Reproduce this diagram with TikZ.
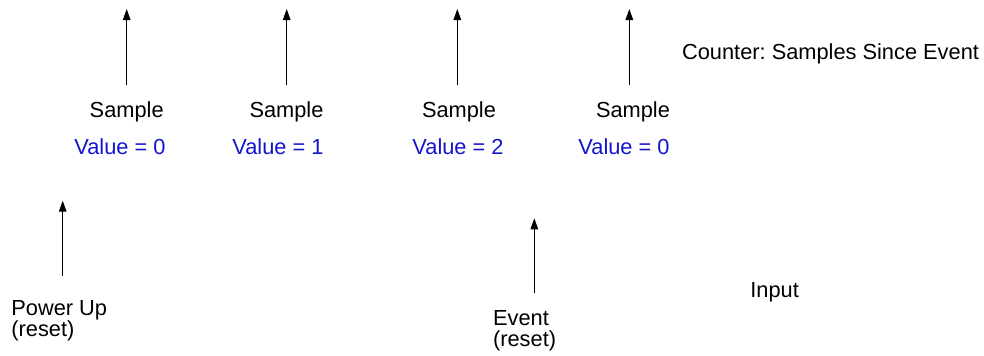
\documentclass[tikz,border=0pt]{standalone}
\usepackage{fontspec}
\setmainfont{Liberation Sans}
\usetikzlibrary{arrows.meta}
\definecolor{valueblue}{RGB}{20,20,205}
\frenchspacing

\begin{document}
\begin{tikzpicture}[x=0.5pt, y=-0.5pt,
    txt/.style={inner sep=0pt, font=\fontsize{10.9}{10.9}\selectfont},
    val/.style={txt, text=valueblue},
    up/.style={-{Triangle[length=5.5pt, width=3.8pt]}, line width=0.5pt}]
    \useasboundingbox (0,0) rectangle (984,355);

    % samples and counter values
    \node[txt, anchor=base] at (126.7, 117.3) (smp1) {Sample};
    \node[txt, anchor=base] at (286.5, 117.3) (smp2) {Sample};
    \node[txt, anchor=base] at (459, 117.3) (smp3) {Sample};
    \node[txt, anchor=base] at (633, 117.3) (smp4) {Sample};

    \node[val, anchor=base] at (120, 154) (val1) {Value = 0};
    \node[val, anchor=base] at (278, 154) (val2) {Value = 1};
    \node[val, anchor=base] at (458, 154) (val3) {Value = 2};
    \node[val, anchor=base] at (624, 154) (val4) {Value = 0};

    \node[txt, anchor=base west] at (681.7, 59.3) (counter) {Counter: Samples Since Event};

    % inputs
    \node[txt, anchor=north west, align=left] at (11, 299.6) (power) {Power Up\\(reset)};
    \node[txt, anchor=north west, align=left] at (492.7, 309.6) (event) {Event\\(reset)};
    \node[txt, anchor=base west] at (750, 297.3) (input) {Input};

    \coordinate (tip1) at (126.7, 9);
    \coordinate (tip2) at (286.7, 9);
    \coordinate (tip3) at (457.3, 9);
    \coordinate (tip4) at (629.3, 9);
    \coordinate (tipP) at (62.7, 200.7);
    \coordinate (tipE) at (534.3, 218.3);

    \draw[up, shorten <=8.3pt] (smp1.north -| tip1) -- (tip1);
    \draw[up, shorten <=8.3pt] (smp2.north -| tip2) -- (tip2);
    \draw[up, shorten <=8.3pt] (smp3.north -| tip3) -- (tip3);
    \draw[up, shorten <=8.3pt] (smp4.north -| tip4) -- (tip4);
    \draw[up, shorten <=11.8pt] (power.north -| tipP) -- (tipP);
    \draw[up, shorten <=8.2pt] (event.north -| tipE) -- (tipE);
\end{tikzpicture}
\end{document}
